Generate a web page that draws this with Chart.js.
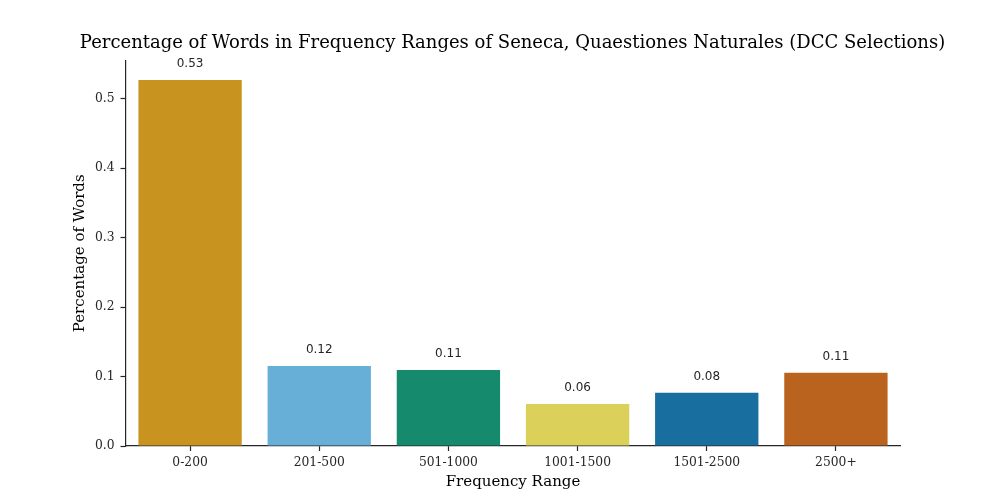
<!DOCTYPE html>
<html>
<head>
<meta charset="utf-8">
<script src="https://cdn.jsdelivr.net/npm/chart.js@4.4.0/dist/chart.umd.min.js"></script>
<style>
  html, body { margin: 0; padding: 0; background: #ffffff; }
  #wrap { width: 1000px; height: 500px; position: relative; }
</style>
</head>
<body>
<div id="wrap"><canvas id="c" width="1000" height="500"></canvas></div>
<script>
const categories = ['0-200', '201-500', '501-1000', '1001-1500', '1501-2500', '2500+'];
const percentages = [0.527, 0.1152, 0.1095, 0.0605, 0.0765, 0.1055];
const barColors = ['#C99320', '#67AFD7', '#158A6D', '#DAD05A', '#176E9F', '#BA631E'];
const yTickValues = [0.0, 0.1, 0.2, 0.3, 0.4, 0.5];

const AXIS_COLOR = '#262626';
const SERIF = "'DejaVu Serif', serif";

const barLabels = {
  id: 'barLabels',
  afterDatasetsDraw(chart) {
    const ctx = chart.ctx;
    const meta = chart.getDatasetMeta(0);
    ctx.save();
    ctx.font = "12px 'DejaVu Sans', sans-serif";
    ctx.fillStyle = '#262626';
    ctx.textAlign = 'center';
    ctx.textBaseline = 'middle';
    meta.data.forEach((bar, i) => {
      const v = chart.data.datasets[0].data[i];
      ctx.fillText(v.toFixed(2), bar.x, bar.y - 16);
    });
    ctx.restore();
  }
};

new Chart(document.getElementById('c'), {
  type: 'bar',
  data: {
    labels: categories,
    datasets: [{
      data: percentages,
      backgroundColor: barColors,
      borderWidth: 0,
      barPercentage: 0.8,
      categoryPercentage: 1.0
    }]
  },
  options: {
    responsive: false,
    animation: false,
    devicePixelRatio: 1,
    layout: { padding: { left: 25, right: 0, top: 0, bottom: 0 } },
    plugins: {
      legend: { display: false },
      tooltip: { enabled: false },
      title: {
        display: true,
        text: 'Percentage of Words in Frequency Ranges of Seneca, Quaestiones Naturales (DCC Selections)',
        color: '#000000',
        font: { family: SERIF, size: 18, weight: 'normal' },
        padding: { top: 32.5, bottom: 6.5 }
      }
    },
    scales: {
      x: {
        type: 'category',
        offset: true,
        grid: { display: true, offset: false, drawOnChartArea: false, drawTicks: true, tickLength: 5, tickColor: AXIS_COLOR, tickWidth: 1.2 },
        border: { display: true, color: AXIS_COLOR, width: 1.2 },
        ticks: { color: AXIS_COLOR, font: { family: SERIF, size: 12.3 }, padding: 4, maxRotation: 0 },
        title: { display: true, text: 'Frequency Range', color: '#000000', font: { family: SERIF, size: 15 }, padding: { top: 0, bottom: 9 } },
        afterFit(scale) { scale.height = 54; }
      },
      y: {
        type: 'linear',
        position: 'left',
        min: 0,
        max: 0.5548,
        afterBuildTicks(scale) { scale.ticks = yTickValues.map(v => ({ value: v })); },
        grid: { display: true, drawOnChartArea: false, drawTicks: true, tickLength: 5, tickColor: AXIS_COLOR, tickWidth: 1.2 },
        border: { display: true, color: AXIS_COLOR, width: 1.2 },
        ticks: { color: AXIS_COLOR, font: { family: SERIF, size: 12.3 }, padding: 6, callback: v => Number(v).toFixed(1) },
        title: { display: true, text: 'Percentage of Words', color: '#000000', font: { family: SERIF, size: 15 }, padding: { top: 46, bottom: 0 } },
        afterFit(scale) { scale.width = 100.5; }
      },
      yRight: {
        type: 'linear',
        position: 'right',
        display: true,
        grid: { display: false, drawTicks: false },
        border: { display: false },
        ticks: { display: false },
        afterFit(scale) { scale.width = 99.5; }
      }
    }
  },
  plugins: [barLabels]
});
</script>
</body>
</html>
